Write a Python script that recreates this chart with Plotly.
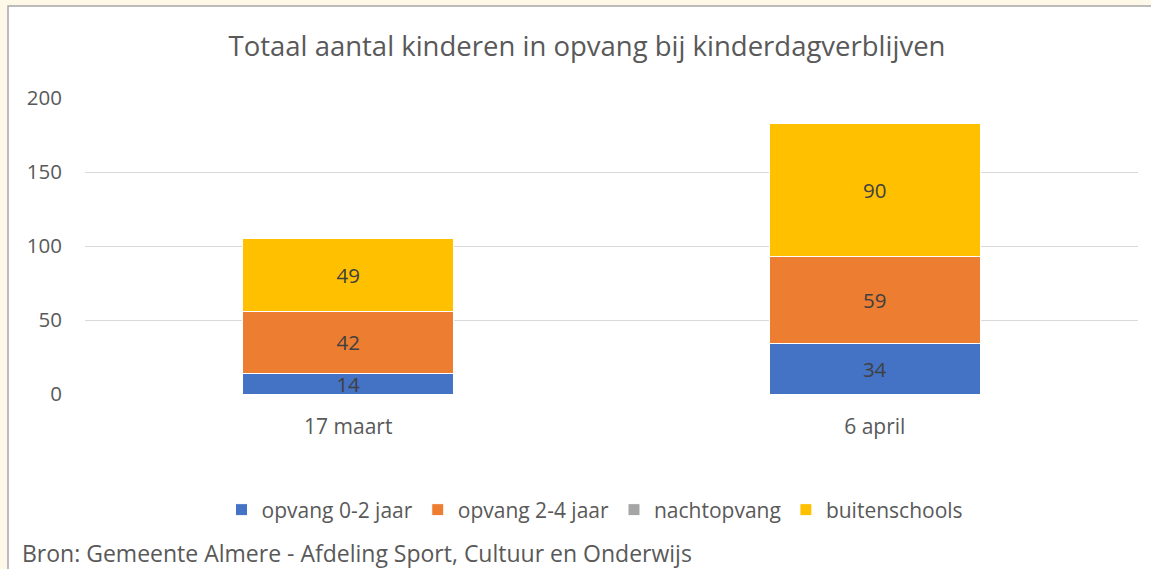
import plotly.graph_objects as go

# data
categories = ['17 maart', '6 april']
series_names = ['opvang 0-2 jaar', 'opvang 2-4 jaar', 'nachtopvang', 'buitenschools']
opvang_0_2 = [14, 34]
opvang_2_4 = [42, 59]
nachtopvang = [0, 0]
buitenschools = [49, 90]
colors = ['#4472C4', '#ED7D31', '#A5A5A5', '#FFC000']

W, H = 1151, 569
L, R, T, B = 85, 13, 98, 175
FONT = 'Open Sans, sans-serif'

fig = go.Figure()
for name, vals, col in zip(series_names, [opvang_0_2, opvang_2_4, nachtopvang, buitenschools], colors):
    fig.add_trace(go.Bar(
        x=categories,
        y=vals,
        name=name,
        marker=dict(color=col, line=dict(color='white', width=1)),
        text=[str(v) if v else '' for v in vals],
        textposition='inside',
        insidetextanchor='middle',
        constraintext='none',
        textfont=dict(color='#404040', size=20.5, family=FONT),
        textangle=0,
    ))


def px_x(p):
    return (p - L) / (W - L - R)


def px_y(p):
    return 1 - (p - T) / (H - T - B)


# cream strip around the chart border (left and top) and the border line
fig.add_shape(type='rect', xref='paper', yref='paper', x0=px_x(0), x1=px_x(W), y0=px_y(0), y1=px_y(H),
              fillcolor='#FDF8E8', line=dict(width=0), layer='below')
fig.add_shape(type='rect', xref='paper', yref='paper', x0=px_x(8), x1=px_x(W + 5), y0=px_y(6), y1=px_y(H + 5),
              fillcolor='white', line=dict(color='#A6A6A6', width=1.5), layer='below')

fig.update_layout(
    width=W, height=H,
    barmode='stack',
    bargap=0.6,
    paper_bgcolor='white',
    plot_bgcolor='rgba(0,0,0,0)',
    margin=dict(l=L, r=R, t=T, b=B, pad=0),
    font=dict(family=FONT, color='#595959', size=20.5),
    title=dict(text='Totaal aantal kinderen in opvang bij kinderdagverblijven',
               x=587 / W, xref='container', xanchor='center', y=1 - 46 / H, yanchor='middle',
               font=dict(size=27.5, color='#595959', family=FONT)),
    xaxis=dict(showline=False, showgrid=False, ticks='', tickfont=dict(size=21, color='#595959'),
               ticklabelstandoff=18),
    yaxis=dict(range=[0, 200], dtick=50, showgrid=True, gridcolor='#D9D9D9', gridwidth=1,
               zeroline=False, showline=False, tickfont=dict(size=20.5, color='#595959'),
               ticklabelstandoff=22),
    legend=dict(orientation='h', x=595 / W, xanchor='center', xref='container',
                y=1 - 510 / H, yanchor='middle', yref='container',
                font=dict(size=21, color='#595959'), traceorder='normal'),
    annotations=[dict(text='Bron: Gemeente Almere - Afdeling Sport, Cultuur en Onderwijs',
                      xref='paper', yref='paper', x=px_x(20), y=px_y(553),
                      xanchor='left', yanchor='middle', showarrow=False,
                      font=dict(size=23, color='#595959', family=FONT))],
)

fig.write_html('out.html', config={'displayModeBar': False},
               post_script="document.body.style.margin='0px';")
